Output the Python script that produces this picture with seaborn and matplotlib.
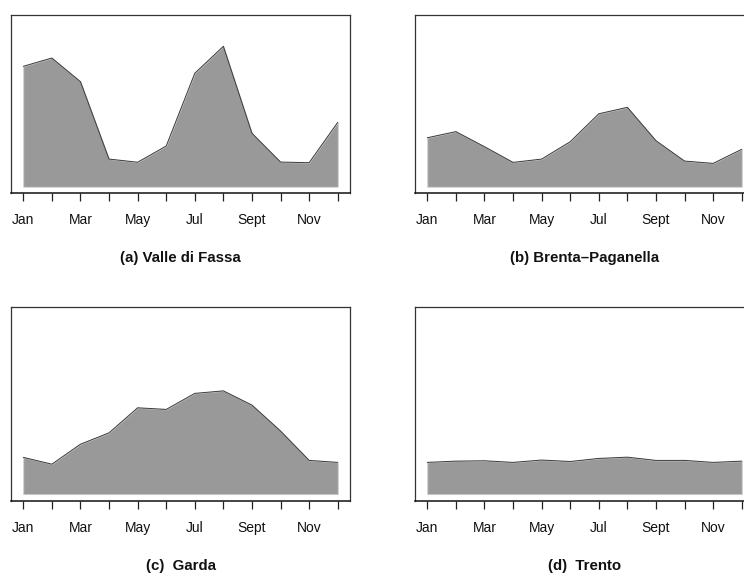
import numpy as np
import pandas as pd
import matplotlib
matplotlib.use("Agg")
import matplotlib.pyplot as plt
import seaborn as sns

# Monthly profile per area (relative units, same scale for all panels)
months = ["Jan", "Feb", "Mar", "Apr", "May", "Jun",
          "Jul", "Aug", "Sept", "Oct", "Nov", "Dec"]
valle_di_fassa = [72.8, 77.8, 63.5, 16.7, 14.8, 24.6, 68.6, 84.9, 32.3, 14.9, 14.5, 38.9]
brenta_paganella = [29.6, 33.3, 24.2, 14.7, 16.7, 27.2, 44.1, 48.0, 27.8, 15.5, 14.1, 22.6]
garda = [20.4, 16.6, 27.7, 34.0, 47.9, 47.0, 55.9, 57.3, 49.4, 35.0, 18.7, 17.6]
trento = [17.6, 18.3, 18.5, 17.6, 18.9, 18.1, 19.8, 20.5, 18.7, 18.7, 17.6, 18.3]
titles = ["(a) Valle di Fassa", "(b) Brenta\u2013Paganella", "(c)  Garda", "(d)  Trento"]
y_max = 100.0

sns.set_theme(style="white")
plt.rcParams["font.family"] = ["Liberation Sans", "DejaVu Sans"]

W, H = 744, 574
fig = plt.figure(figsize=(W / 100, H / 100), dpi=100)

# panel boxes in pixels: (left, top, right, bottom)
boxes = [(10.7, 14.7, 350.3, 193.3),
         (414.7, 14.7, 754.3, 193.3),
         (10.7, 306.7, 350.3, 501.3),
         (414.7, 306.7, 754.3, 501.3)]
title_y = [258, 258, 566, 566]
series = [valle_di_fassa, brenta_paganella, garda, trento]

x = np.arange(1, 13)
for (l, t, r, b), vals, title, ty in zip(boxes, series, titles, title_y):
    ax = fig.add_axes([l / W, 1 - b / H, (r - l) / W, (b - t) / H])
    df = pd.DataFrame({"month": x, "value": vals})
    ax.fill_between(df["month"], 0, df["value"], color="#999999",
                    edgecolor="#c8c8c8", linewidth=0.6, zorder=1)
    sns.lineplot(data=df, x="month", y="value", ax=ax, color="#3a3a3a",
                 linewidth=0.7, zorder=2)
    ax.set_xlim(1 - 0.44, 12 + 0.44)
    ax.set_ylim(-0.04 * y_max, 1.04 * y_max)
    ax.set_xticks(x)
    ax.set_xticklabels([m if i % 2 == 0 else "" for i, m in enumerate(months)],
                       fontsize=10, color="#111111")
    ax.set_yticks([])
    ax.set_xlabel("")
    ax.set_ylabel("")
    ax.tick_params(axis="x", direction="out", length=6, width=0.9,
                   color="#222222", pad=8.5, bottom=True)
    for side, sp in ax.spines.items():
        sp.set_visible(True)
        sp.set_color("#333333")
        sp.set_linewidth(0.9)
    ax.spines["bottom"].set_color("#111111")
    ax.spines["bottom"].set_linewidth(1.1)
    fig.text(((l + r) / 2) / W, 1 - ty / H, title, ha="center", va="center",
             fontsize=10.8, fontweight="bold", color="#111111")

fig.savefig("out.png", dpi=100)
